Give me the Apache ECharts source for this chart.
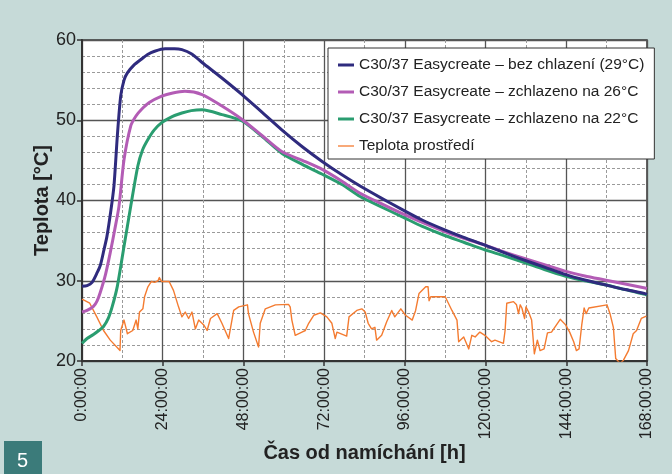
<!DOCTYPE html>
<html>
<head>
<meta charset="utf-8">
<style>
html,body{margin:0;padding:0;background:#c6dad8;}
#chart{width:672px;height:474px;}
</style>
<script src="https://cdn.jsdelivr.net/npm/echarts@6/dist/echarts.min.js"></script>
</head>
<body>
<div id="chart"></div>
<script>
// ---- data (hours since mixing, temperature °C) ----
var seriesNames = [
  'C30/37 Easycreate – bez chlazení (29°C)',
  'C30/37 Easycreate – zchlazeno na 26°C',
  'C30/37 Easycreate – zchlazeno na 22°C',
  'Teplota prostředí'
];
var xTickHours = [0, 24, 48, 72, 96, 120, 144, 168];

var blueH = [0, 1.5, 3, 4.5, 5.5, 6.5, 7.4, 8.5, 9.5, 10.5, 11.5, 12.5, 13.5, 15.5, 17.6, 19.5, 21.6, 24.7, 27.5, 29.7, 32.5, 35.7, 41.5, 47.6, 53.5, 59.4, 65.5, 71.3, 77.3, 82.7, 89, 95.1, 101, 107.5, 113.5, 119.4, 125.5, 131.3, 137.5, 143.6, 149.5, 155.5, 161.5, 167.4, 168];
var blueT = [29.3, 29.4, 29.8, 31, 32, 33.8, 35.5, 38.5, 41.8, 48, 53, 55, 55.9, 56.9, 57.6, 58.2, 58.6, 58.9, 58.9, 58.8, 58.3, 57.2, 55.3, 53.2, 51, 48.8, 46.7, 44.9, 43.2, 41.8, 40.3, 38.9, 37.6, 36.4, 35.4, 34.5, 33.5, 32.6, 31.7, 30.8, 30.1, 29.5, 28.9, 28.4, 28.3];

var purpleH = [0, 1.5, 3.4, 4.5, 5.4, 7, 8.4, 9.7, 11, 12.5, 14.5, 16, 17.6, 20, 23.7, 27, 30.6, 35.7, 41.5, 47.6, 53.5, 59.4, 65.5, 71.3, 77.3, 82.7, 89, 95.1, 101, 107.5, 113.5, 119.4, 125.5, 131.3, 137.5, 143.6, 149.5, 155.5, 161.5, 167.4, 168];
var purpleT = [26.1, 26.3, 26.8, 27.5, 28.5, 30.8, 33.5, 36.3, 39.3, 45.1, 49.3, 50.5, 51.3, 52.2, 53, 53.4, 53.6, 53.2, 51.8, 50.1, 48.1, 46.1, 45, 43.9, 42.4, 40.9, 39.6, 38.4, 37.3, 36.2, 35.3, 34.5, 33.6, 32.8, 32, 31.2, 30.6, 30.1, 29.6, 29.1, 29.05];

var greenH = [0, 1.5, 3.4, 5, 6.4, 7.8, 9, 10.5, 12.5, 14.5, 16.6, 18, 19.6, 21.5, 23.7, 26.5, 29.7, 32.5, 35.7, 41.6, 47.6, 53.5, 59.4, 65.5, 71.3, 77.3, 82.7, 89, 95.1, 101, 107.5, 113.5, 119.4, 125.5, 131.3, 137.5, 143.6, 149.5, 155.5, 161.5, 167.4, 168];
var greenT = [22.2, 22.8, 23.3, 23.8, 24.3, 25.3, 26.8, 29.3, 34.3, 39.3, 44.3, 46.3, 47.6, 48.8, 49.7, 50.4, 50.9, 51.2, 51.3, 50.7, 49.9, 48, 45.9, 44.5, 43.3, 42, 40.5, 39.2, 38, 36.8, 35.7, 34.8, 33.9, 33.1, 32.3, 31.4, 30.6, 30, 29.5, 28.9, 28.3, 28.2];

var ambientH = [0, 2.3, 4.4, 6.4, 8.4, 11.3, 11.5, 12.5, 13.5, 15.1, 16.1, 16.6, 17.1, 18.1, 18.6, 19.6, 20.6, 21.6, 22.6, 23.0, 23.7, 25.9, 27.2, 28.7, 29.7, 30.7, 31.7, 32.7, 33.7, 34.7, 36.2, 37.2, 38.2, 40.2, 41.6, 43.6, 45.1, 46.6, 49.2, 49.5, 51, 52.5, 53, 54.5, 57.5, 61.4, 61.9, 62.4, 63.4, 65.4, 66.4, 67.4, 68.9, 70.9, 72.8, 74.3, 75.3, 75.8, 78.7, 79.4, 81.7, 83.2, 84.2, 85.1, 86.1, 87.1, 87.6, 89.1, 90.6, 92.1, 93.0, 94.8, 96.2, 98.2, 99.2, 100.2, 102.2, 102.9, 103.2, 103.7, 108, 110, 111.5, 112, 113.5, 115, 115.9, 116.9, 118.3, 119.8, 121.8, 122.8, 125.3, 125.8, 126.3, 128.3, 129.2, 129.8, 130.3, 130.8, 131.6, 132, 132.8, 133.7, 134.5, 135.4, 136.2, 137.4, 138.4, 139.6, 142.2, 143.8, 145, 146.2, 147, 147.8, 148.6, 149.3, 149.9, 150.7, 156.1, 157, 158, 158.7, 160, 161, 162.5, 163.9, 164.9, 166.3, 167.8];
var ambientT = [27.7, 27.2, 25.5, 23.8, 22.6, 21.3, 23.8, 25.1, 23.4, 23.8, 25.1, 24.0, 26.1, 26.5, 28.0, 29.25, 29.9, 29.8, 30.0, 30.4, 29.9, 29.9, 28.8, 26.75, 25.5, 26.1, 25.3, 26.1, 24.0, 25.1, 24.5, 23.8, 25.3, 25.9, 24.7, 22.8, 26.3, 26.75, 27.0, 25.9, 23.6, 21.75, 24.7, 26.5, 27.0, 27.05, 26.75, 25.1, 23.2, 23.6, 23.8, 24.7, 25.7, 26.0, 25.5, 24.7, 22.8, 23.6, 23.1, 25.5, 26.3, 26.5, 26.1, 24.7, 24.0, 24.2, 22.6, 23.2, 24.9, 26.3, 25.5, 26.5, 25.7, 25.1, 26.3, 28.4, 29.25, 29.25, 27.5, 28.0, 28.0, 26.3, 25.1, 22.4, 23.0, 21.5, 23.2, 23.0, 23.6, 23.2, 22.4, 22.6, 22.2, 23.8, 27.2, 27.4, 27.0, 25.9, 27.0, 26.6, 25.3, 26.75, 26.1, 25.1, 20.9, 22.6, 21.3, 21.5, 23.5, 23.6, 25.2, 24.5, 23.6, 22.4, 21.3, 21.5, 24.5, 26.6, 25.9, 26.6, 27.0, 25.9, 24.2, 20.3, 19.7, 20.1, 21.3, 23.4, 23.8, 25.3, 25.6];

function pairs(h, t) { return h.map(function (x, i) { return [x, t[i]]; }); }

var FONT = '"Liberation Sans", Arial, sans-serif';
var chart = echarts.init(document.getElementById('chart'), null, {renderer: 'canvas'});

var mkLine = function (name, h, t, color, width, smooth) {
  return {
    name: name, type: 'line', data: pairs(h, t),
    showSymbol: false, symbol: 'none', smooth: smooth,
    lineStyle: {color: color, width: width, join: 'round'}, itemStyle: {color: color},
    animation: false
  };
};

var thickIcon = 'path://M0,0H16V3H0Z';
var thinIcon = 'path://M0,0H16V1.3H0Z';

chart.setOption({
  backgroundColor: '#c6dad8',
  animation: false,
  textStyle: {fontFamily: FONT},
  grid: {left: 82, right: 25, top: 40, bottom: 113, show: true, backgroundColor: '#ffffff', borderColor: '#333333', borderWidth: 1.5},
  legend: {
    orient: 'vertical', left: 328, top: 48,
    backgroundColor: '#ffffff', borderColor: '#333333', borderWidth: 1,
    padding: [9, 10, 5, 10], itemGap: 11, itemWidth: 16, itemHeight: 14,
    textStyle: {fontSize: 15.5, color: '#222222', fontFamily: FONT},
    data: [
      {name: seriesNames[0], icon: thickIcon},
      {name: seriesNames[1], icon: thickIcon},
      {name: seriesNames[2], icon: thickIcon},
      {name: seriesNames[3], icon: thinIcon}
    ]
  },
  xAxis: {
    type: 'value', min: xTickHours[0], max: xTickHours[xTickHours.length - 1], interval: 24,
    name: 'Čas od namíchání [h]', nameLocation: 'middle', nameGap: 82, nameMoveOverlap: false,
    nameTextStyle: {fontSize: 20, fontWeight: 'bold', color: '#222222', fontFamily: FONT},
    axisLine: {show: true, lineStyle: {color: '#333333', width: 2}},
    axisTick: {show: true, length: 5, lineStyle: {color: '#333333', width: 1.5}},
    axisLabel: {rotate: 90, fontSize: 16, color: '#222222', margin: 7, fontFamily: FONT,
      formatter: function (v) { return v + ':00:00'; }},
    splitLine: {show: true, lineStyle: {color: '#555555', width: 1.3}},
    minorTick: {show: false, splitNumber: 2},
    minorSplitLine: {show: true, lineStyle: {color: '#9a9a9a', width: 1, type: [3, 2]}}
  },
  yAxis: {
    type: 'value', min: 20, max: 60, interval: 10,
    name: 'Teplota [°C]', nameLocation: 'middle', nameGap: 30, nameMoveOverlap: false,
    nameTextStyle: {fontSize: 20, fontWeight: 'bold', color: '#222222', fontFamily: FONT},
    axisLine: {show: true, lineStyle: {color: '#333333', width: 2}},
    axisTick: {show: true, length: 5, lineStyle: {color: '#333333', width: 1.5}},
    axisLabel: {fontSize: 18, color: '#222222', margin: 6, fontFamily: FONT},
    splitLine: {show: true, lineStyle: {color: '#555555', width: 1.3}},
    minorTick: {show: false, splitNumber: 5},
    minorSplitLine: {show: true, lineStyle: {color: '#9a9a9a', width: 1, type: [3, 2]}}
  },
  graphic: [
    {type: 'rect', left: 4, top: 441, shape: {width: 38, height: 33}, style: {fill: '#3b7b7a'}, silent: true},
    {type: 'text', left: 17, top: 451, style: {text: '5', fill: '#ffffff', fontSize: 20, fontFamily: FONT}, silent: true}
  ],
  series: [
    mkLine(seriesNames[3], ambientH, ambientT, '#f47b30', 1.4, false),
    mkLine(seriesNames[2], greenH, greenT, '#2a9d70', 3, 0.25),
    mkLine(seriesNames[1], purpleH, purpleT, '#b35cb5', 3, 0.25),
    mkLine(seriesNames[0], blueH, blueT, '#2f2b7e', 3, 0.25)
  ]
});
</script>
</body>
</html>
